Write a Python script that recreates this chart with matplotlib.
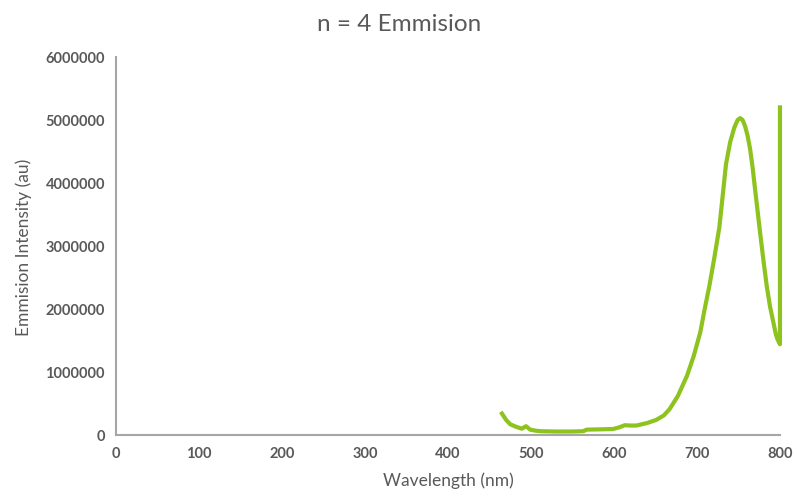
import matplotlib

matplotlib.use("Agg")

import matplotlib.pyplot as plt

# emission spectrum
wavelength = [465, 470, 475, 482, 489, 494, 499, 505, 511, 530, 550, 563, 567,
              585, 599, 606, 613, 620, 627, 640, 651, 660, 667, 677, 688, 696,
              704, 709, 715, 721, 727, 731, 735, 740, 745, 749, 752, 755, 758,
              761, 764, 767, 770, 776, 780, 784, 788, 792, 795, 797, 800, 800]
intensity = [340000, 240000, 170000, 130000, 100000, 140000, 85000, 70000,
             60000, 55000, 55000, 60000, 85000, 90000, 95000, 120000, 155000,
             150000, 150000, 190000, 240000, 310000, 410000, 620000, 940000,
             1250000, 1630000, 1980000, 2370000, 2820000, 3300000, 3800000,
             4300000, 4650000, 4880000, 5000000, 5030000, 5000000, 4900000,
             4750000, 4540000, 4250000, 3900000, 3220000, 2780000, 2370000,
             2040000, 1790000, 1600000, 1520000, 1440000, 5200000]

xticks = [0, 100, 200, 300, 400, 500, 600, 700, 800]
yticks = [0, 1000000, 2000000, 3000000, 4000000, 5000000, 6000000]

plt.rcParams["font.family"] = ["Lato", "DejaVu Sans"]
text_color = "#595959"

fig = plt.figure(figsize=(7.98, 5.02), dpi=100)
ax = fig.add_axes([0.1454, 0.1315, 0.832, 0.753])

ax.plot(wavelength, intensity, color="#8DC21F", linewidth=3.0,
        solid_joinstyle="round", clip_on=False)

ax.set_xlim(0, 800)
ax.set_ylim(0, 6000000)
ax.set_xticks(xticks)
ax.set_yticks(yticks)
ax.set_xticklabels([str(v) for v in xticks])
ax.set_yticklabels([str(v) for v in yticks])
ax.tick_params(length=0, labelsize=10.5, labelcolor=text_color, pad=8)
for lbl in ax.get_xticklabels() + ax.get_yticklabels():
    lbl.set_fontweight("bold")

for side in ("top", "right"):
    ax.spines[side].set_visible(False)
for side in ("left", "bottom"):
    ax.spines[side].set_color("#A6A6A6")
    ax.spines[side].set_linewidth(1.5)

ax.set_xlabel("Wavelength (nm)", fontsize=12.5, color=text_color, labelpad=8)
ax.set_ylabel("Emmision Intensity (au)", fontsize=12.5, color=text_color,
              labelpad=10)
fig.text(0.5, 0.952, "n = 4 Emmision", ha="center", va="center",
         fontsize=17.5, color=text_color)

fig.savefig("out.png", dpi=100)
plt.close(fig)
